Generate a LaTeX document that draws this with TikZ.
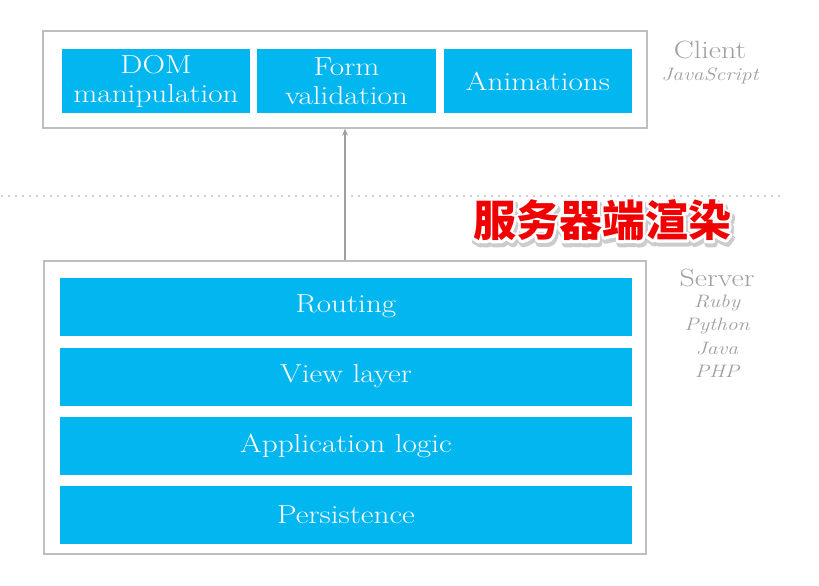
\documentclass[tikz,border=0pt]{standalone}
\usepackage{fontspec}
\setmainfont{Latin Modern Roman}[FakeStretch=1.2]
\usepackage{xcolor}
\definecolor{ciano}{RGB}{2,182,240}
\definecolor{cinza}{RGB}{160,160,160}
\definecolor{borda}{RGB}{190,190,190}
\definecolor{vermelho}{RGB}{240,0,0}
\newfontfamily\cjk{Noto Sans CJK SC}
% stroked glyphs for the outline and the shadow of the caption
\newcommand{\strokedtext}[3]{%
  \special{pdf:literal direct 2 Tr #1 RG #1 rg #2 w 1 j}#3\special{pdf:literal direct 0 Tr 0 w}}
\newcommand{\halotext}[1]{%
  \rlap{\hspace{1.5pt}\raisebox{-3pt}{\strokedtext{0.8 0.8 0.8}{7}{#1}}}%
  \rlap{\strokedtext{1 1 1}{5}{#1}}%
  \textcolor{vermelho}{#1}}
\usepackage{tikz}
\usetikzlibrary{arrows.meta, positioning}

\begin{document}
\begin{tikzpicture}[x=1pt, y=-1pt,
    outer/.style={rectangle, draw=borda, line width=1.4pt, fill=white, inner sep=0pt},
    bar/.style={rectangle, fill=ciano, inner sep=0pt, text=white,
                font=\fontsize{26}{29}\selectfont, align=center},
    sbar/.style={bar, minimum width=572pt, minimum height=58pt},
    cbar/.style={bar, minimum height=64pt},
    lbl/.style={text=cinza, font=\fontsize{25}{27}\selectfont},
    lang/.style={text=cinza, font=\fontsize{18}{20}\selectfont\itshape},
    arr/.style={-{Stealth[length=7pt, width=6pt]}, cinza, line width=1.2pt},
    sep/.style={cinza, line width=1.6pt, line cap=round, dash pattern=on 0pt off 7pt},
    captxt/.style={font=\cjk\bfseries\fontsize{43}{46}\selectfont, inner sep=0pt}
  ]
  \useasboundingbox (0,0) rectangle (819,586);

  % client side
  \node[outer, minimum width=604pt, minimum height=97pt] (client) at (345, 79.5) {};
  \node[cbar, minimum width=188pt] (dom)  at (156, 81)   {DOM\\manipulation};
  \node[cbar, minimum width=179pt] (form) at (346.5, 81) {Form\\validation};
  \node[cbar, minimum width=188pt] (anim) at (538, 81)   {Animations};

  \node[lbl]  (clbl) at (710, 50) {Client};
  \node[lang] (js)   at (710, 76) {JavaScript};

  % boundary
  \coordinate (sepl) at (2, 196);
  \coordinate (sepr) at (782, 196);
  \draw[sep] (sepl) -- (sepr);

  % server side
  \node[outer, minimum width=602pt, minimum height=293pt] (server) at (345, 407.5) {};
  \node[sbar] (routing) at (346, 306.5) {Routing};
  \node[sbar] (view)    at (346, 376.5) {View layer};
  \node[sbar] (logic)   at (346, 445.5) {Application logic};
  \node[sbar] (persist) at (346, 514.5) {Persistence};

  \node[lbl]  (slbl)   at (717, 278) {Server};
  \node[lang] (ruby)   at (717, 303) {Ruby};
  \node[lang] (python) at (717, 326) {Python};
  \node[lang] (java)   at (717, 349) {Java};
  \node[lang] (php)    at (717, 371) {PHP};

  \draw[arr] (server.north) -- (client.south);

  % red caption
  \node[captxt] (caption) at (602, 222) {\halotext{服务器端渲染}};

\end{tikzpicture}
\end{document}
